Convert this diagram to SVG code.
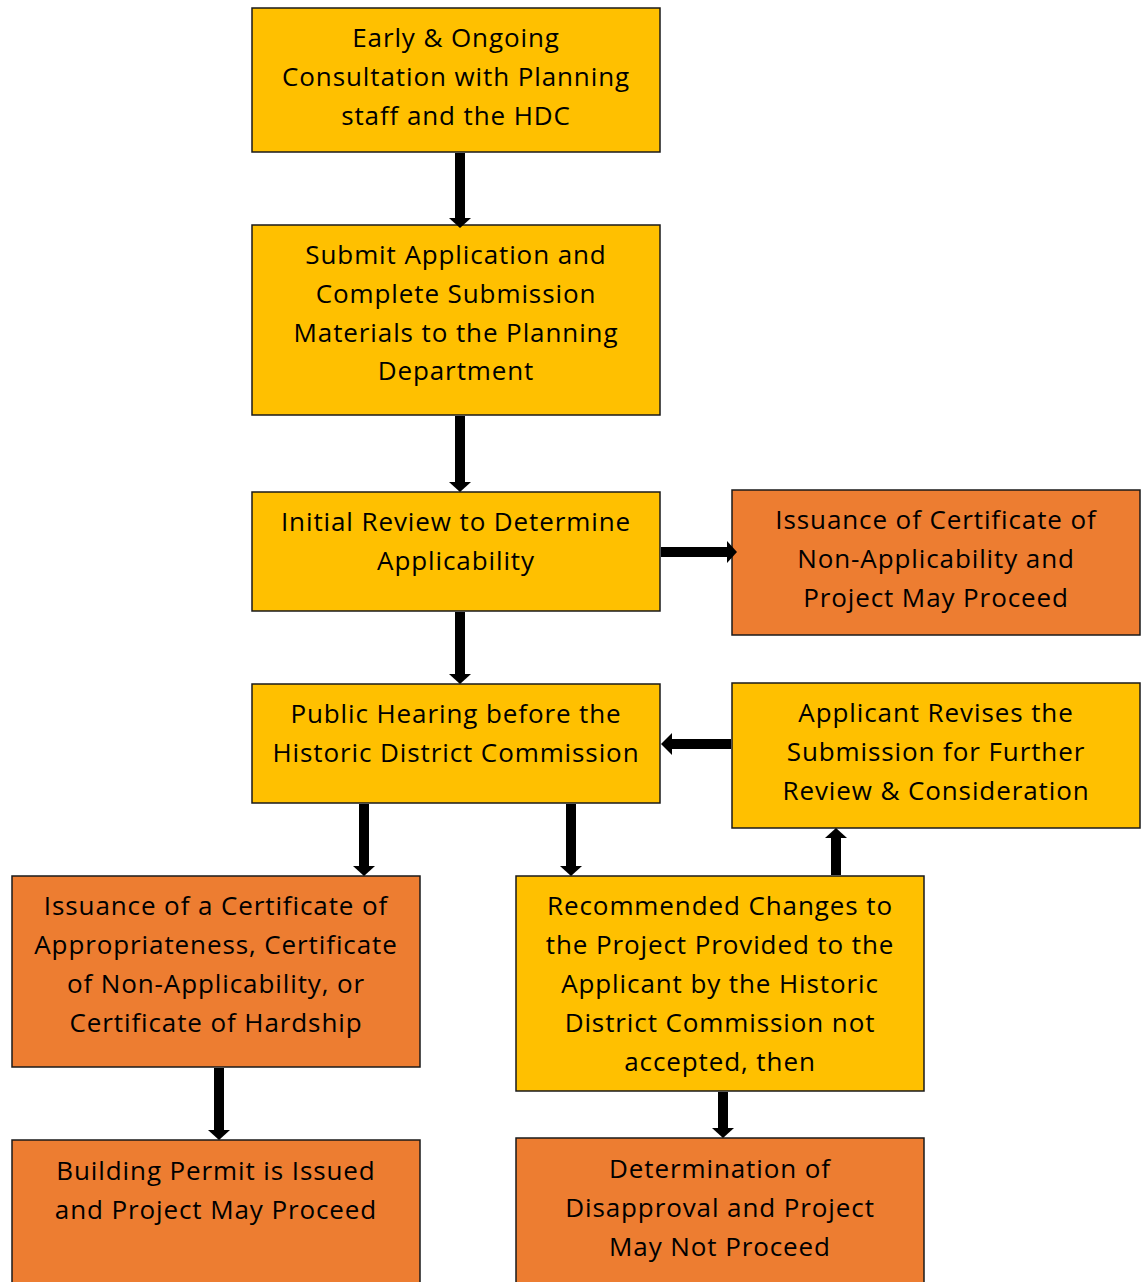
<svg xmlns="http://www.w3.org/2000/svg" width="1142" height="1282" viewBox="0 0 1142 1282">
<defs>
<style>
.y{fill:#FFC000;stroke:#1a1a1a;stroke-width:1.5}
.o{fill:#ED7D31;stroke:#1a1a1a;stroke-width:1.5}
text{font-family:"Open Sans","Noto Sans","Liberation Sans",sans-serif;font-size:26px;letter-spacing:0.9px;fill:#000;text-anchor:middle}
.c line{stroke:#000;stroke-width:10}
.c path{fill:#000}
</style>
</defs>
<rect width="1142" height="1282" fill="#fff"/>
<g id="n1"><rect class="y" x="252" y="8" width="408" height="144"/>
<text x="456" y="47">Early &amp; Ongoing</text><text x="456" y="86">Consultation with Planning</text><text x="456" y="125">staff and the HDC</text></g>
<g id="n2"><rect class="y" x="252" y="225" width="408" height="190"/>
<text x="456" y="264">Submit Application and</text><text x="456" y="303">Complete Submission</text><text x="456" y="342">Materials to the Planning</text><text x="456" y="380">Department</text></g>
<g id="n3"><rect class="y" x="252" y="492" width="408" height="119"/>
<text x="456" y="531">Initial Review to Determine</text><text x="456" y="570">Applicability</text></g>
<g id="n4"><rect class="o" x="732" y="490" width="408" height="145"/>
<text x="936" y="529">Issuance of Certificate of</text><text x="936" y="568">Non-Applicability and</text><text x="936" y="607">Project May Proceed</text></g>
<g id="n5"><rect class="y" x="252" y="684" width="408" height="119"/>
<text x="456" y="723">Public Hearing before the</text><text x="456" y="762">Historic District Commission</text></g>
<g id="n6"><rect class="y" x="732" y="683" width="408" height="145"/>
<text x="936" y="722">Applicant Revises the</text><text x="936" y="761">Submission for Further</text><text x="936" y="800">Review &amp; Consideration</text></g>
<g id="n7"><rect class="o" x="12" y="876" width="408" height="191"/>
<text x="216" y="915">Issuance of a Certificate of</text><text x="216" y="954">Appropriateness, Certificate</text><text x="216" y="993">of Non-Applicability, or</text><text x="216" y="1032">Certificate of Hardship</text></g>
<g id="n8"><rect class="y" x="516" y="876" width="408" height="215"/>
<text x="720" y="915">Recommended Changes to</text><text x="720" y="954">the Project Provided to the</text><text x="720" y="993">Applicant by the Historic</text><text x="720" y="1032">District Commission not</text><text x="720" y="1071">accepted, then</text></g>
<g id="n9"><rect class="o" x="12" y="1140" width="408" height="150"/>
<text x="216" y="1180">Building Permit is Issued</text><text x="216" y="1219">and Project May Proceed</text></g>
<g id="n10"><rect class="o" x="516" y="1138" width="408" height="152"/>
<text x="720" y="1178">Determination of</text><text x="720" y="1217">Disapproval and Project</text><text x="720" y="1256">May Not Proceed</text></g>
<g id="connectors" class="c">
<line x1="460" y1="153" x2="460" y2="219"/><path d="M449 218 L471 218 L460 228 Z"/>
<line x1="460" y1="416" x2="460" y2="483"/><path d="M449 482 L471 482 L460 492 Z"/>
<line x1="661" y1="552" x2="728" y2="552"/><path d="M727 541 L737 552 L727 563 Z"/>
<line x1="460" y1="612" x2="460" y2="675"/><path d="M449 674 L471 674 L460 684 Z"/>
<line x1="731" y1="744" x2="671" y2="744"/><path d="M672 733 L661 744 L672 755 Z"/>
<line x1="364" y1="804" x2="364" y2="867"/><path d="M353 866 L375 866 L364 876 Z"/>
<line x1="571" y1="804" x2="571" y2="867"/><path d="M560 866 L582 866 L571 876 Z"/>
<line x1="836" y1="875" x2="836" y2="837"/><path d="M825 838 L847 838 L836 828 Z"/>
<line x1="219" y1="1068" x2="219" y2="1131"/><path d="M208 1130 L230 1130 L219 1140 Z"/>
<line x1="723" y1="1092" x2="723" y2="1129"/><path d="M712 1128 L734 1128 L723 1138 Z"/>
</g>
</svg>
